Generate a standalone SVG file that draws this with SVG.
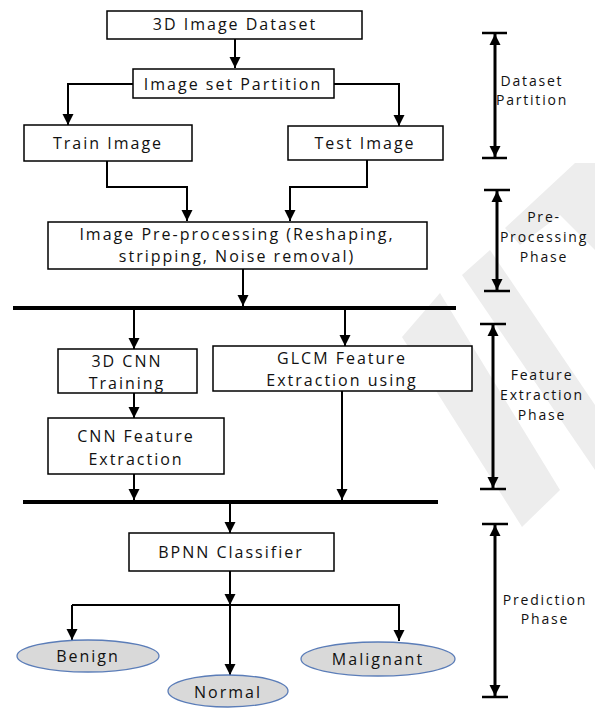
<svg xmlns="http://www.w3.org/2000/svg" width="595" height="710" viewBox="0 0 595 710">
<style>
.box{fill:#fff;stroke:#000;stroke-width:1.5}
.ell{fill:#d9d9d9;stroke:#5b7db8;stroke-width:1.3}
.t{font-family:"Open Sans","Liberation Sans",sans-serif;font-size:16px;letter-spacing:2px;fill:#111;text-anchor:middle}
.p{font-family:"Open Sans","Liberation Sans",sans-serif;font-size:14px;letter-spacing:1.8px;fill:#111;text-anchor:middle}
.c{fill:none;stroke:#000;stroke-width:2}
.bar{stroke:#000;stroke-width:4}
.ph{fill:none;stroke:#000;stroke-width:3}
.cap{stroke:#000;stroke-width:2.5}
.wm{fill:#ededed}
</style>
<defs>
<marker id="ah" viewBox="0 0 10 10" refX="10" refY="5" markerWidth="11" markerHeight="12" markerUnits="userSpaceOnUse" orient="auto-start-reverse">
<path d="M0,0 L10,5 L0,10 z" fill="#000"/>
</marker>
</defs>

<g id="watermark">
<polygon class="wm" points="440,293 402,337 522,527 560,490"/>
<polygon class="wm" points="462,275 490,250 595,405 595,470"/>
<polygon class="wm" points="505,228 575,163 595,163 595,250 560,215 520,245"/>
</g>

<g id="connectors">
<path class="c" d="M235,39 V68" marker-end="url(#ah)"/>
<path class="c" d="M133,84 H68 V125" marker-end="url(#ah)"/>
<path class="c" d="M334,84 H399 V126" marker-end="url(#ah)"/>
<path class="c" d="M107,161 V187 H187 V221" marker-end="url(#ah)"/>
<path class="c" d="M367,160 V187 H290 V221" marker-end="url(#ah)"/>
<path class="c" d="M243,269 V306" marker-end="url(#ah)"/>
<line class="bar" x1="13" y1="308" x2="456" y2="308"/>
<path class="c" d="M134,310 V349" marker-end="url(#ah)"/>
<path class="c" d="M345,310 V346" marker-end="url(#ah)"/>
<path class="c" d="M134,393 V418" marker-end="url(#ah)"/>
<path class="c" d="M134,474 V500" marker-end="url(#ah)"/>
<path class="c" d="M342,391 V500" marker-end="url(#ah)"/>
<line class="bar" x1="23" y1="502" x2="438" y2="502"/>
<path class="c" d="M230,504 V533" marker-end="url(#ah)"/>
<path class="c" d="M230,571 V605" marker-end="url(#ah)"/>
<path class="c" d="M72,605 H399 V641" marker-end="url(#ah)"/>
<path class="c" d="M72,605 V640" marker-end="url(#ah)"/>
<path class="c" d="M230,605 V675" marker-end="url(#ah)"/>
</g>

<g id="n-dataset"><rect class="box" x="107" y="11" width="255" height="28"/><text class="t" x="235" y="30">3D Image Dataset</text></g>
<g id="n-partition"><rect class="box" x="133" y="69" width="201" height="29"/><text class="t" x="233" y="90">Image set Partition</text></g>
<g id="n-train"><rect class="box" x="24" y="125" width="168" height="36"/><text class="t" x="108" y="149">Train Image</text></g>
<g id="n-test"><rect class="box" x="288" y="126" width="155" height="34"/><text class="t" x="365" y="149">Test Image</text></g>
<g id="n-preproc"><rect class="box" x="48" y="222" width="379" height="47"/><text class="t" x="237" y="240">Image Pre-processing (Reshaping,</text><text class="t" x="237" y="262">stripping, Noise removal)</text></g>
<g id="n-cnntrain"><rect class="box" x="58" y="349" width="139" height="44"/><text class="t" x="127" y="367">3D CNN</text><text class="t" x="127" y="389">Training</text></g>
<g id="n-glcm"><rect class="box" x="213" y="346" width="259" height="45"/><text class="t" x="342" y="364">GLCM Feature</text><text class="t" x="342" y="386">Extraction using</text></g>
<g id="n-cnnfeat"><rect class="box" x="48" y="418" width="176" height="56"/><text class="t" x="136" y="442">CNN Feature</text><text class="t" x="136" y="465">Extraction</text></g>
<g id="n-bpnn"><rect class="box" x="129" y="533" width="205" height="38"/><text class="t" x="231" y="558">BPNN Classifier</text></g>
<g id="n-benign"><ellipse class="ell" cx="88" cy="656" rx="71" ry="16"/><text class="t" x="88" y="662">Benign</text></g>
<g id="n-normal"><ellipse class="ell" cx="228" cy="691" rx="60" ry="16"/><text class="t" x="228" y="698">Normal</text></g>
<g id="n-malignant"><ellipse class="ell" cx="378" cy="659" rx="77" ry="17"/><text class="t" x="378" y="665">Malignant</text></g>

<g id="phases">
<line class="cap" x1="482" y1="33" x2="507" y2="33"/>
<line class="cap" x1="482" y1="158" x2="507" y2="158"/>
<path class="ph" d="M495,34 V157" marker-start="url(#ah)" marker-end="url(#ah)"/>
<text class="p" x="532" y="86">Dataset</text>
<text class="p" x="532" y="105">Partition</text>

<line class="cap" x1="484" y1="190" x2="510" y2="190"/>
<line class="cap" x1="484" y1="291" x2="510" y2="291"/>
<path class="ph" d="M497,191 V290" marker-start="url(#ah)" marker-end="url(#ah)"/>
<text class="p" x="544" y="222">Pre-</text>
<text class="p" x="544" y="242">Processing</text>
<text class="p" x="544" y="262">Phase</text>

<line class="cap" x1="480" y1="324" x2="506" y2="324"/>
<line class="cap" x1="480" y1="489" x2="506" y2="489"/>
<path class="ph" d="M493,325 V488" marker-start="url(#ah)" marker-end="url(#ah)"/>
<text class="p" x="542" y="380">Feature</text>
<text class="p" x="542" y="400">Extraction</text>
<text class="p" x="542" y="420">Phase</text>

<line class="cap" x1="482" y1="524" x2="508" y2="524"/>
<line class="cap" x1="482" y1="697" x2="508" y2="697"/>
<path class="ph" d="M495,525 V696" marker-start="url(#ah)" marker-end="url(#ah)"/>
<text class="p" x="545" y="605">Prediction</text>
<text class="p" x="545" y="624">Phase</text>
</g>
</svg>
